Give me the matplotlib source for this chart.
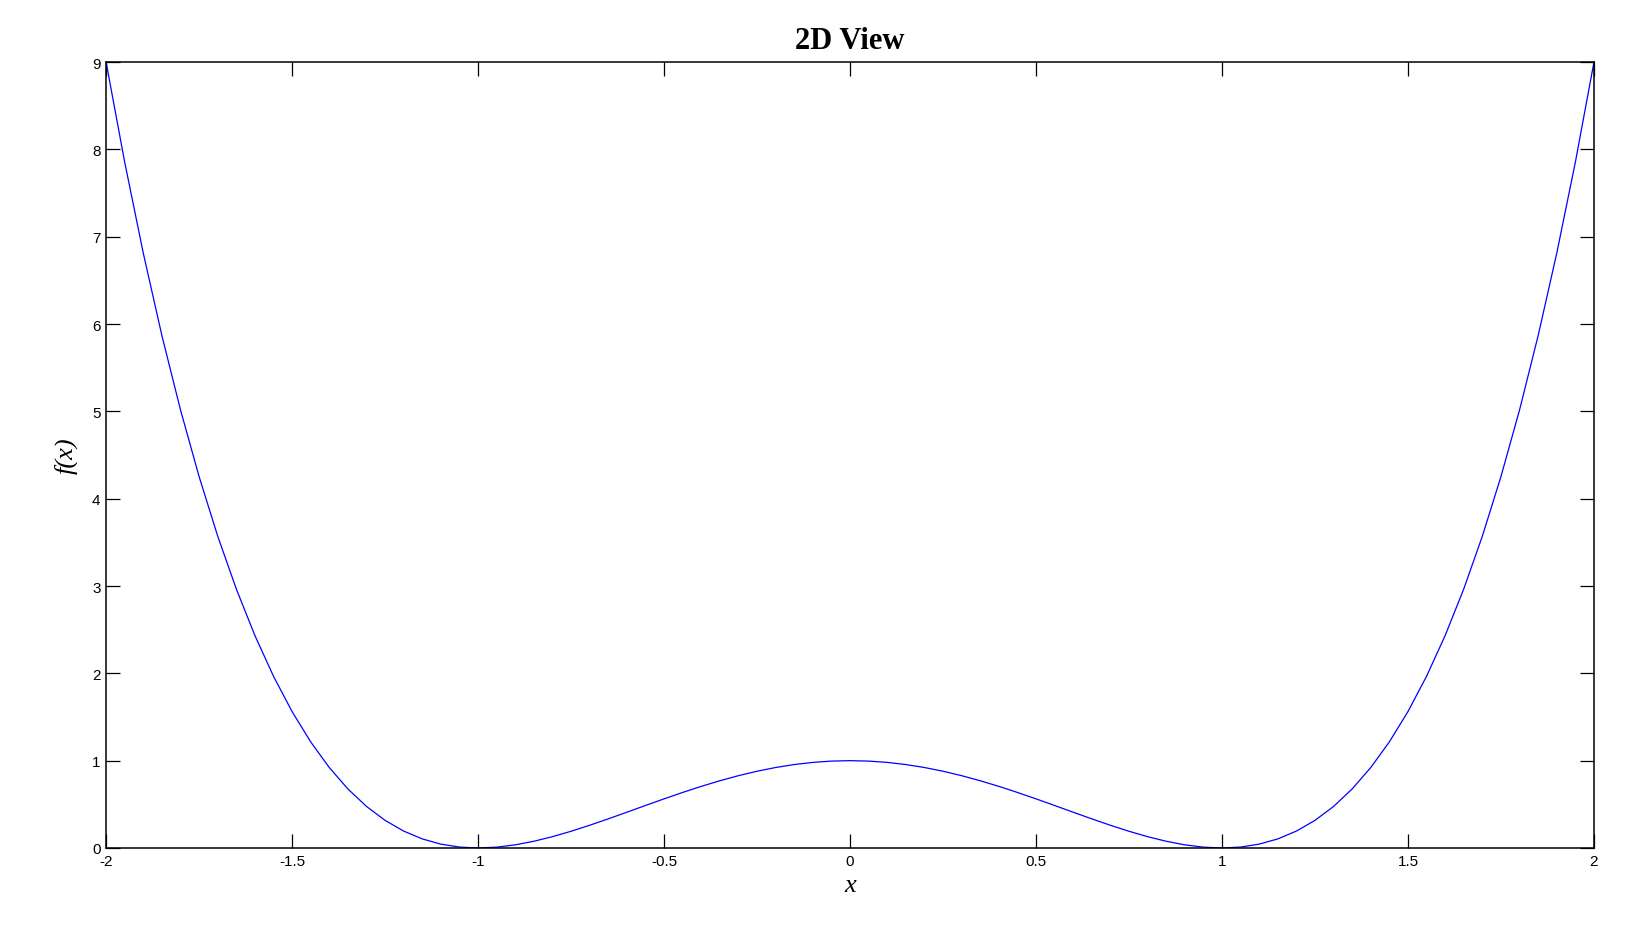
import numpy as np
import matplotlib
matplotlib.use("Agg")
import matplotlib.pyplot as plt

# curve samples, x from -2 to 2 in steps of 0.05
f_right = [1.0, 0.9950, 0.9801, 0.9555, 0.9216, 0.8789, 0.8281, 0.7700, 0.7056, 0.6360,
           0.5625, 0.4865, 0.4096, 0.3335, 0.2601, 0.1914, 0.1296, 0.0770, 0.0361, 0.0095,
           0.0, 0.0105, 0.0441, 0.1040, 0.1936, 0.3164, 0.4761, 0.6765, 0.9216, 1.2155,
           1.5625, 1.9670, 2.4336, 2.9670, 3.5721, 4.2539, 5.0176, 5.8685, 6.8121, 7.8540,
           9.0]
f_left = [9.0, 7.8540, 6.8121, 5.8685, 5.0176, 4.2539, 3.5721, 2.9670, 2.4336, 1.9670,
          1.5625, 1.2155, 0.9216, 0.6765, 0.4761, 0.3164, 0.1936, 0.1040, 0.0441, 0.0105,
          0.0, 0.0095, 0.0361, 0.0770, 0.1296, 0.1914, 0.2601, 0.3335, 0.4096, 0.4865,
          0.5625, 0.6360, 0.7056, 0.7700, 0.8281, 0.8789, 0.9216, 0.9555, 0.9801, 0.9950]
fx = f_left + f_right
xs = np.linspace(-2, 2, len(fx))

x_ticks = [-2, -1.5, -1, -0.5, 0, 0.5, 1, 1.5, 2]
x_ticklabels = ["-2", "-1.5", "-1", "-0.5", "0", "0.5", "1", "1.5", "2"]
y_ticks = list(range(0, 10))

plt.rcParams['axes.unicode_minus'] = False

fig = plt.figure(figsize=(16.32, 9.45), dpi=100)
ax = fig.add_axes([0.065, 0.1016, 0.9117, 0.8317])

ax.plot(xs, fx, color=(0, 0, 1), linewidth=0.9)

ax.set_xlim(-2, 2)
ax.set_ylim(0, 9)
ax.set_xticks(x_ticks)
ax.set_xticklabels(x_ticklabels)
ax.set_yticks(y_ticks)
ax.tick_params(direction='in', length=10, width=0.9, top=True, right=True,
               labelsize=11, pad=4)
for lab in ax.get_xticklabels() + ax.get_yticklabels():
    lab.set_family('Liberation Sans')
for s in ax.spines.values():
    s.set_linewidth(1.1)

ax.set_title("2D View", fontfamily='Liberation Serif', fontweight='bold',
             fontsize=22, pad=10)
ax.set_xlabel("x", fontfamily='Liberation Serif', fontstyle='italic',
              fontsize=19, labelpad=5)
ax.set_ylabel("f(x)", fontfamily='Liberation Serif', fontstyle='italic',
              fontsize=19, labelpad=10)

fig.savefig("out.png", dpi=100)
